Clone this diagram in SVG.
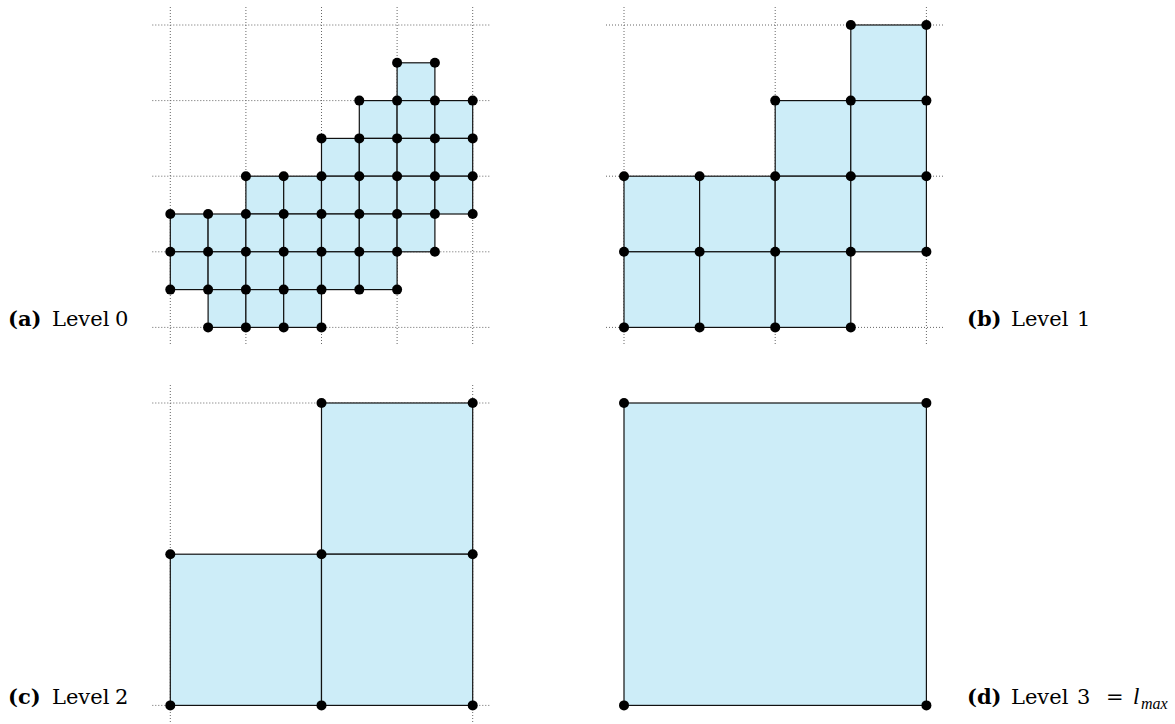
<svg xmlns="http://www.w3.org/2000/svg" width="1175" height="724" viewBox="0 0 1175 724">
<style>
.grid{stroke:#666;stroke-width:1;stroke-dasharray:1 2;fill:none}
.cell{fill:#cdedf8;stroke:#111;stroke-width:1.2}
.v{fill:#000}
.lbl{font-family:"DejaVu Serif","Liberation Serif",serif;font-size:21px;fill:#000}
.b{font-weight:bold}
.i{font-family:"Liberation Serif","DejaVu Serif",serif;font-style:italic}
</style>
<defs>
<circle id="d" r="5" class="v"/>
</defs>
<rect width="1175" height="724" fill="#fff"/>

<g id="panel-a" transform="translate(170.3,25)">
<g class="grid">
<path d="M-18,0H320.4M-18,75.6H320.4M-18,151.2H320.4M-18,226.8H320.4M-18,302.4H320.4"/>
<path d="M0,-18V320.4M75.6,-18V320.4M151.2,-18V320.4M226.8,-18V320.4M302.4,-18V320.4"/>
</g>
<g id="cells-a">
<rect class="cell" x="226.8" y="37.8" width="37.8" height="37.8"/>
<rect class="cell" x="189" y="75.6" width="37.8" height="37.8"/>
<rect class="cell" x="226.8" y="75.6" width="37.8" height="37.8"/>
<rect class="cell" x="264.6" y="75.6" width="37.8" height="37.8"/>
<rect class="cell" x="151.2" y="113.4" width="37.8" height="37.8"/>
<rect class="cell" x="189" y="113.4" width="37.8" height="37.8"/>
<rect class="cell" x="226.8" y="113.4" width="37.8" height="37.8"/>
<rect class="cell" x="264.6" y="113.4" width="37.8" height="37.8"/>
<rect class="cell" x="75.6" y="151.2" width="37.8" height="37.8"/>
<rect class="cell" x="113.4" y="151.2" width="37.8" height="37.8"/>
<rect class="cell" x="151.2" y="151.2" width="37.8" height="37.8"/>
<rect class="cell" x="189" y="151.2" width="37.8" height="37.8"/>
<rect class="cell" x="226.8" y="151.2" width="37.8" height="37.8"/>
<rect class="cell" x="264.6" y="151.2" width="37.8" height="37.8"/>
<rect class="cell" x="0" y="189" width="37.8" height="37.8"/>
<rect class="cell" x="37.8" y="189" width="37.8" height="37.8"/>
<rect class="cell" x="75.6" y="189" width="37.8" height="37.8"/>
<rect class="cell" x="113.4" y="189" width="37.8" height="37.8"/>
<rect class="cell" x="151.2" y="189" width="37.8" height="37.8"/>
<rect class="cell" x="189" y="189" width="37.8" height="37.8"/>
<rect class="cell" x="226.8" y="189" width="37.8" height="37.8"/>
<rect class="cell" x="0" y="226.8" width="37.8" height="37.8"/>
<rect class="cell" x="37.8" y="226.8" width="37.8" height="37.8"/>
<rect class="cell" x="75.6" y="226.8" width="37.8" height="37.8"/>
<rect class="cell" x="113.4" y="226.8" width="37.8" height="37.8"/>
<rect class="cell" x="151.2" y="226.8" width="37.8" height="37.8"/>
<rect class="cell" x="189" y="226.8" width="37.8" height="37.8"/>
<rect class="cell" x="37.8" y="264.6" width="37.8" height="37.8"/>
<rect class="cell" x="75.6" y="264.6" width="37.8" height="37.8"/>
<rect class="cell" x="113.4" y="264.6" width="37.8" height="37.8"/>
</g>
<g id="verts-a">
<use href="#d" x="226.8" y="37.8"/><use href="#d" x="264.6" y="37.8"/>
<use href="#d" x="189" y="75.6"/><use href="#d" x="226.8" y="75.6"/><use href="#d" x="264.6" y="75.6"/><use href="#d" x="302.4" y="75.6"/>
<use href="#d" x="151.2" y="113.4"/><use href="#d" x="189" y="113.4"/><use href="#d" x="226.8" y="113.4"/><use href="#d" x="264.6" y="113.4"/><use href="#d" x="302.4" y="113.4"/>
<use href="#d" x="75.6" y="151.2"/><use href="#d" x="113.4" y="151.2"/><use href="#d" x="151.2" y="151.2"/><use href="#d" x="189" y="151.2"/><use href="#d" x="226.8" y="151.2"/><use href="#d" x="264.6" y="151.2"/><use href="#d" x="302.4" y="151.2"/>
<use href="#d" x="0" y="189"/><use href="#d" x="37.8" y="189"/><use href="#d" x="75.6" y="189"/><use href="#d" x="113.4" y="189"/><use href="#d" x="151.2" y="189"/><use href="#d" x="189" y="189"/><use href="#d" x="226.8" y="189"/><use href="#d" x="264.6" y="189"/><use href="#d" x="302.4" y="189"/>
<use href="#d" x="0" y="226.8"/><use href="#d" x="37.8" y="226.8"/><use href="#d" x="75.6" y="226.8"/><use href="#d" x="113.4" y="226.8"/><use href="#d" x="151.2" y="226.8"/><use href="#d" x="189" y="226.8"/><use href="#d" x="226.8" y="226.8"/><use href="#d" x="264.6" y="226.8"/>
<use href="#d" x="0" y="264.6"/><use href="#d" x="37.8" y="264.6"/><use href="#d" x="75.6" y="264.6"/><use href="#d" x="113.4" y="264.6"/><use href="#d" x="151.2" y="264.6"/><use href="#d" x="189" y="264.6"/><use href="#d" x="226.8" y="264.6"/>
<use href="#d" x="37.8" y="302.4"/><use href="#d" x="75.6" y="302.4"/><use href="#d" x="113.4" y="302.4"/><use href="#d" x="151.2" y="302.4"/>
</g>
</g>

<g id="panel-b" transform="translate(624,25)">
<g class="grid">
<path d="M-18,0H320.4M-18,151.2H320.4M-18,302.4H320.4"/>
<path d="M0,-18V320.4M151.2,-18V320.4M302.4,-18V320.4"/>
</g>
<g id="cells-b">
<rect class="cell" x="226.8" y="0" width="75.6" height="75.6"/>
<rect class="cell" x="151.2" y="75.6" width="75.6" height="75.6"/>
<rect class="cell" x="226.8" y="75.6" width="75.6" height="75.6"/>
<rect class="cell" x="0" y="151.2" width="75.6" height="75.6"/>
<rect class="cell" x="75.6" y="151.2" width="75.6" height="75.6"/>
<rect class="cell" x="151.2" y="151.2" width="75.6" height="75.6"/>
<rect class="cell" x="226.8" y="151.2" width="75.6" height="75.6"/>
<rect class="cell" x="0" y="226.8" width="75.6" height="75.6"/>
<rect class="cell" x="75.6" y="226.8" width="75.6" height="75.6"/>
<rect class="cell" x="151.2" y="226.8" width="75.6" height="75.6"/>
</g>
<g id="verts-b">
<use href="#d" x="226.8" y="0"/><use href="#d" x="302.4" y="0"/>
<use href="#d" x="151.2" y="75.6"/><use href="#d" x="226.8" y="75.6"/><use href="#d" x="302.4" y="75.6"/>
<use href="#d" x="0" y="151.2"/><use href="#d" x="75.6" y="151.2"/><use href="#d" x="151.2" y="151.2"/><use href="#d" x="226.8" y="151.2"/><use href="#d" x="302.4" y="151.2"/>
<use href="#d" x="0" y="226.8"/><use href="#d" x="75.6" y="226.8"/><use href="#d" x="151.2" y="226.8"/><use href="#d" x="226.8" y="226.8"/><use href="#d" x="302.4" y="226.8"/>
<use href="#d" x="0" y="302.4"/><use href="#d" x="75.6" y="302.4"/><use href="#d" x="151.2" y="302.4"/><use href="#d" x="226.8" y="302.4"/>
</g>
</g>

<g id="panel-c" transform="translate(170.3,403)">
<g class="grid">
<path d="M-18,0H320.4M-18,302.4H320.4"/>
<path d="M0,-18V320.4M302.4,-18V320.4"/>
</g>
<g id="cells-c">
<rect class="cell" x="151.2" y="0" width="151.2" height="151.2"/>
<rect class="cell" x="0" y="151.2" width="151.2" height="151.2"/>
<rect class="cell" x="151.2" y="151.2" width="151.2" height="151.2"/>
</g>
<g id="verts-c">
<use href="#d" x="151.2" y="0"/><use href="#d" x="302.4" y="0"/>
<use href="#d" x="0" y="151.2"/><use href="#d" x="151.2" y="151.2"/><use href="#d" x="302.4" y="151.2"/>
<use href="#d" x="0" y="302.4"/><use href="#d" x="151.2" y="302.4"/><use href="#d" x="302.4" y="302.4"/>
</g>
</g>

<g id="panel-d" transform="translate(624,403)">
<rect class="cell" x="0" y="0" width="302.4" height="302.4"/>
<g id="verts-d">
<use href="#d" x="0" y="0"/><use href="#d" x="302.4" y="0"/>
<use href="#d" x="0" y="302.4"/><use href="#d" x="302.4" y="302.4"/>
</g>
</g>

<g id="labels" class="lbl">
<text id="label-a" y="326"><tspan class="b" x="8">(a)</tspan><tspan x="52">Level</tspan><tspan x="115">0</tspan></text>
<text id="label-b" y="326"><tspan class="b" x="967">(b)</tspan><tspan x="1011">Level</tspan><tspan x="1077">1</tspan></text>
<text id="label-c" y="704"><tspan class="b" x="8">(c)</tspan><tspan x="52">Level</tspan><tspan x="115">2</tspan></text>
<text id="label-d" y="704"><tspan class="b" x="967">(d)</tspan><tspan x="1011">Level</tspan><tspan x="1077">3</tspan><tspan x="1106">=</tspan><tspan class="i" x="1133" font-size="23">l</tspan><tspan class="i" x="1141" dy="5" font-size="16">max</tspan></text>
</g>
</svg>
